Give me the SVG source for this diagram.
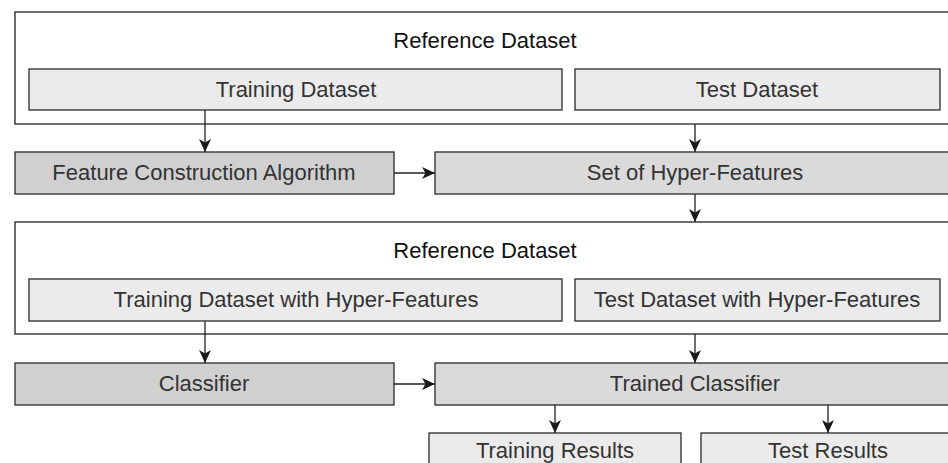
<svg xmlns="http://www.w3.org/2000/svg" width="948" height="463" viewBox="0 0 948 463">
  <style>
    .frame { fill: #ffffff; stroke: #222222; stroke-width: 1.3; }
    .light { fill: #ebebeb; stroke: #2a2a2a; stroke-width: 1.3; }
    .mid { fill: #dadada; stroke: #2a2a2a; stroke-width: 1.3; }
    .dark { fill: #d0d0d0; stroke: #2a2a2a; stroke-width: 1.3; }
    text { font-family: "Liberation Sans", Arial, Helvetica, sans-serif; font-size: 22px; text-anchor: middle; fill: #333333; }
    text.title { fill: #111111; }
    .edge { stroke: #222222; stroke-width: 1.3; fill: none; marker-end: url(#arrow); }
  </style>
  <defs>
    <marker id="arrow" markerUnits="userSpaceOnUse" markerWidth="13" markerHeight="13" refX="13" refY="6.5" orient="auto">
      <path d="M0,0.5 L13,6.5 L0,12.5 L3.5,6.5 Z" fill="#1a1a1a"/>
    </marker>
  </defs>

  <rect width="948" height="463" fill="#ffffff"/>

  <!-- first reference dataset -->
  <g id="reference-dataset-1">
    <rect class="frame" x="15" y="12" width="950" height="112"/>
    <text class="title" x="485" y="48">Reference Dataset</text>
  </g>
  <g id="training-dataset">
    <rect class="light" x="29" y="69" width="533" height="41"/>
    <text x="296" y="97">Training Dataset</text>
  </g>
  <g id="test-dataset">
    <rect class="light" x="575" y="69" width="365" height="41"/>
    <text x="757" y="97">Test Dataset</text>
  </g>

  <g id="feature-construction">
    <rect class="dark" x="15" y="152" width="379" height="42"/>
    <text x="204" y="180">Feature Construction Algorithm</text>
  </g>
  <g id="hyper-features">
    <rect class="mid" x="435" y="152" width="530" height="42"/>
    <text x="695" y="180">Set of Hyper-Features</text>
  </g>

  <!-- second reference dataset -->
  <g id="reference-dataset-2">
    <rect class="frame" x="15" y="222" width="950" height="112"/>
    <text class="title" x="485" y="258">Reference Dataset</text>
  </g>
  <g id="training-dataset-hf">
    <rect class="light" x="29" y="279" width="533" height="42"/>
    <text x="296" y="307">Training Dataset with Hyper-Features</text>
  </g>
  <g id="test-dataset-hf">
    <rect class="light" x="575" y="279" width="365" height="42"/>
    <text x="757" y="307">Test Dataset with Hyper-Features</text>
  </g>

  <g id="classifier">
    <rect class="dark" x="15" y="363" width="379" height="42"/>
    <text x="204" y="391">Classifier</text>
  </g>
  <g id="trained-classifier">
    <rect class="mid" x="435" y="363" width="530" height="42"/>
    <text x="695" y="391">Trained Classifier</text>
  </g>

  <g id="training-results">
    <rect class="light" x="429" y="433" width="252" height="42"/>
    <text x="555" y="458">Training Results</text>
  </g>
  <g id="test-results">
    <rect class="light" x="701" y="433" width="264" height="42"/>
    <text x="828" y="458">Test Results</text>
  </g>

  <g id="connectors">
    <line class="edge" x1="205" y1="110" x2="205" y2="152"/>
    <line class="edge" x1="695" y1="124" x2="695" y2="152"/>
    <line class="edge" x1="394" y1="173" x2="435" y2="173"/>
    <line class="edge" x1="695" y1="194" x2="695" y2="222"/>
    <line class="edge" x1="205" y1="321" x2="205" y2="363"/>
    <line class="edge" x1="695" y1="334" x2="695" y2="363"/>
    <line class="edge" x1="394" y1="384" x2="435" y2="384"/>
    <line class="edge" x1="555" y1="405" x2="555" y2="433"/>
    <line class="edge" x1="828" y1="405" x2="828" y2="433"/>
  </g>
</svg>
